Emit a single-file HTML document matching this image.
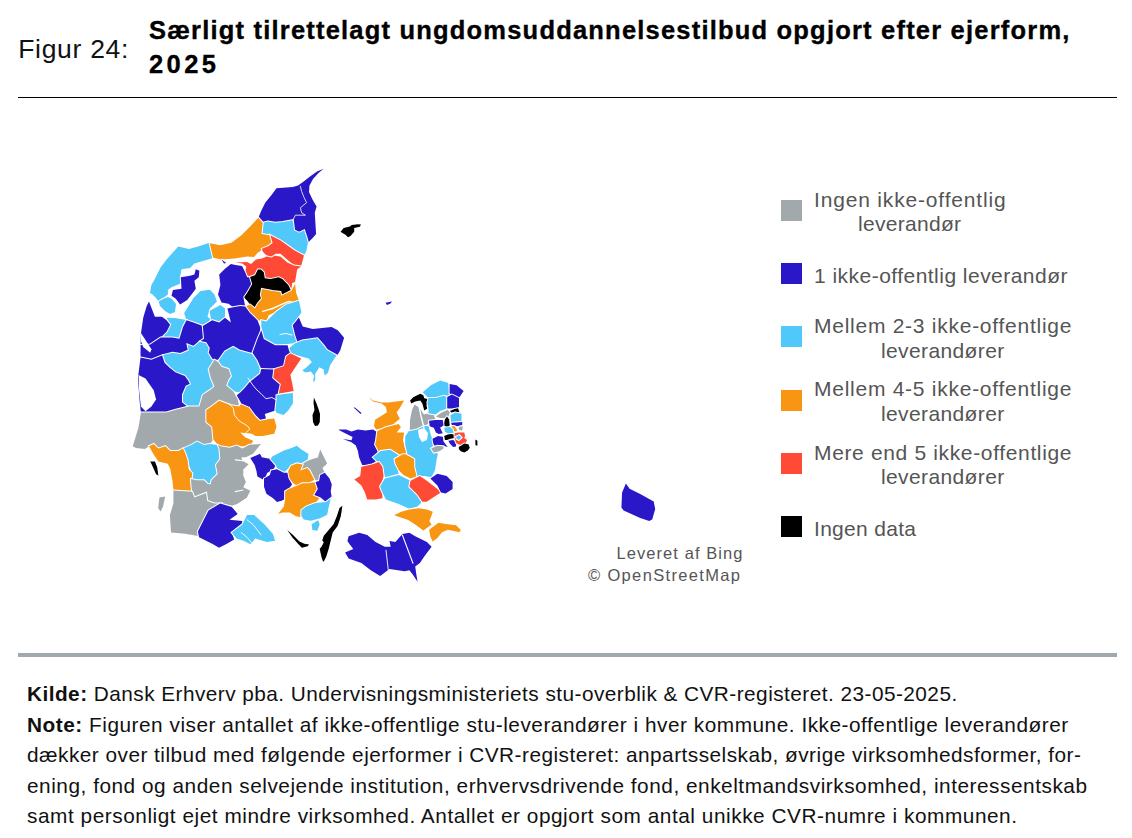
<!DOCTYPE html>
<html><head><meta charset="utf-8">
<style>
html,body{margin:0;padding:0;background:#fff;}
body{width:1132px;height:838px;position:relative;overflow:hidden;font-family:"Liberation Sans",sans-serif;}
.t{position:absolute;white-space:nowrap;line-height:1;}
.t b{font-weight:bold;}
</style></head><body>
<div style="position:absolute;left:18px;top:97px;width:1099px;height:1px;background:#000"></div>
<div style="position:absolute;left:18px;top:653px;width:1099px;height:4px;background:#A1A9AC"></div>
<div style="position:absolute;left:781px;top:200px;width:21px;height:21px;background:#A1A9AC"></div><div style="position:absolute;left:781px;top:263px;width:21px;height:21px;background:#2A18C8"></div><div style="position:absolute;left:781px;top:326px;width:21px;height:21px;background:#50C8FA"></div><div style="position:absolute;left:781px;top:390px;width:21px;height:21px;background:#F89512"></div><div style="position:absolute;left:781px;top:453px;width:21px;height:21px;background:#FF4B36"></div><div style="position:absolute;left:781px;top:516px;width:21px;height:21px;background:#000000"></div>
<svg style="position:absolute;left:0;top:0" width="1132" height="838" viewBox="0 0 1132 838"><path d="M323.6,168.8 L317.0,171.5 L310.0,176.5 L303.0,182.0 L298.0,185.5 L292.8,187.0 L276.5,188.2 L271.5,195.1 L265.2,202.7 L261.5,210.2 L258.3,217.7 L262.7,222.7 L267.8,221.5 L275.3,222.7 L282.8,222.1 L292.8,220.2 L294.1,230.3 L299.1,232.8 L304.1,230.3 L306.6,237.8 L307.9,242.8 L312.9,237.8 L316.1,234.0 L315.4,222.7 L314.8,212.7 L316.6,206.4 L312.5,199.5 L309.0,192.0 L309.5,185.5 L313.0,179.0 L318.5,173.0Z" fill="#2A18C8" stroke="#fff" stroke-width="2.0" paint-order="stroke"/>
<path d="M261.5,234.0 L262.7,222.7 L267.8,221.5 L275.3,222.7 L282.8,222.1 L292.8,220.2 L294.1,230.3 L299.1,232.8 L304.1,230.3 L306.6,237.8 L307.9,242.8 L306.6,250.3 L304.1,255.4 L295.4,250.3 L287.8,245.3 L280.3,240.3 L270.3,235.3Z" fill="#50C8FA" stroke="#fff" stroke-width="2.0" paint-order="stroke"/>
<path d="M258.3,217.7 L262.7,222.7 L261.5,234.0 L270.3,235.3 L271.5,242.8 L265.2,247.8 L257.7,252.8 L254.0,257.0 L247.2,256.6 L234.5,258.6 L221.7,259.6 L212.0,257.6 L208.7,243.0 L220.1,245.3 L231.4,242.8 L241.4,235.3 L250.2,226.5Z" fill="#F89512" stroke="#fff" stroke-width="2.0" paint-order="stroke"/>
<path d="M261.9,248.8 L268.7,245.9 L272.6,242.9 L270.3,235.3 L280.3,240.3 L288.3,245.9 L295.1,250.8 L304.1,255.4 L303.9,255.7 L301.0,266.4 L294.1,265.4 L288.3,260.5 L280.4,253.7 L275.6,253.7 L270.7,257.6 L265.8,254.7 L262.8,251.7Z" fill="#FF4B36" stroke="#fff" stroke-width="2.0" paint-order="stroke"/>
<path d="M235.4,262.5 L242.3,263.5 L246.2,266.4 L245.2,272.3 L247.2,277.2 L255.0,275.2 L257.9,269.4 L263.8,272.3 L264.8,278.2 L270.7,279.1 L278.5,277.2 L282.4,279.1 L288.3,285.0 L291.2,290.9 L292.2,283.0 L295.1,282.1 L297.1,269.4 L301.0,266.4 L294.1,265.4 L287.3,262.5 L280.4,256.6 L274.6,255.7 L271.6,257.6 L266.8,256.6 L261.9,258.6 L256.0,259.6 L251.0,264.0 L247.0,262.0Z" fill="#FF4B36" stroke="#fff" stroke-width="2.0" paint-order="stroke"/>
<path d="M257.9,269.4 L260.9,269.4 L263.8,272.3 L264.8,278.2 L270.7,279.1 L278.5,277.2 L282.4,279.1 L288.3,285.0 L291.2,290.9 L286.3,293.8 L281.4,295.8 L280.4,291.9 L272.6,290.9 L262.8,288.9 L260.9,294.8 L261.9,298.7 L257.9,303.6 L255.0,308.5 L250.1,304.6 L247.2,300.7 L243.3,296.8 L247.2,290.9 L251.1,284.0 L249.1,277.2 L255.0,275.2Z" fill="#000000" stroke="#fff" stroke-width="2.0" paint-order="stroke"/>
<path d="M261.9,288.9 L272.6,290.9 L280.4,291.9 L281.4,295.8 L291.2,290.9 L295.1,284.0 L296.1,292.8 L299.0,300.7 L292.2,302.6 L286.3,304.6 L276.5,311.4 L268.7,315.3 L266.3,321.4 L257.5,320.2 L250.0,313.0 L247.2,310.5 L245.2,306.5 L250.1,304.6 L255.0,308.5 L257.9,303.6 L261.9,298.7 L260.9,294.8Z" fill="#F89512" stroke="#fff" stroke-width="2.0" paint-order="stroke"/>
<path d="M262.8,311.4 L272.6,308.5 L283.4,303.6 L288.3,301.6 L293.2,302.6" fill="none" stroke="#fff" stroke-width="1.5" stroke-linejoin="round" stroke-linecap="round"/>
<path d="M340.6,231.7 L343.7,228.0 L349.9,226.4 L351.7,224.9 L357.9,224.3 L361.0,224.6 L359.8,226.8 L354.2,228.0 L354.2,231.7 L350.5,236.1 L348.0,237.3 L345.5,234.8 L342.4,233.0Z" fill="#000000" stroke="#fff" stroke-width="2.0" paint-order="stroke"/>
<path d="M385.5,302.8 L392.0,301.5 L390.5,303.6 L387.0,305.0Z" fill="#2A18C8" stroke="#fff" stroke-width="2.0" paint-order="stroke"/>
<path d="M150.0,293.0 L151.4,285.1 L154.3,280.1 L160.7,267.2 L166.6,259.4 L178.3,246.5 L188.8,248.9 L198.2,246.5 L208.7,243.0 L212.2,258.2 L203.7,260.7 L194.4,263.6 L190.1,267.9 L181.5,269.3 L180.1,277.2 L180.1,283.7 L171.5,287.2 L167.9,290.1 L167.9,294.4 L158.6,301.6 L156.0,298.0 L152.0,294.0Z" fill="#50C8FA" stroke="#fff" stroke-width="2.0" paint-order="stroke"/>
<path d="M172.9,290.1 L181.5,288.7 L180.8,277.2 L190.1,275.8 L194.4,274.4 L195.8,269.3 L199.4,270.8 L198.7,277.2 L194.4,280.8 L195.8,288.7 L191.5,294.4 L187.2,300.1 L180.1,304.4 L175.8,298.7 L171.5,295.8Z" fill="#2A18C8" stroke="#fff" stroke-width="2.0" paint-order="stroke"/>
<path d="M221.5,259.4 L226.2,262.9 L224.0,263.5Z" fill="#2A18C8" stroke="#fff" stroke-width="2.0" paint-order="stroke"/>
<path d="M219.2,274.6 L225.0,268.7 L230.9,264.1 L235.4,265.0 L242.0,266.0 L245.2,272.3 L247.2,277.2 L249.1,277.2 L251.1,284.0 L247.2,290.9 L243.3,296.8 L245.2,306.5 L241.3,306.5 L237.4,310.5 L233.2,307.3 L228.5,303.8 L221.5,302.6 L218.0,294.5 L220.4,285.1Z" fill="#2A18C8" stroke="#fff" stroke-width="2.0" paint-order="stroke"/>
<path d="M184.1,313.2 L193.5,298.0 L200.5,291.0 L209.8,289.8 L214.5,294.5 L216.9,301.5 L209.8,308.5 L207.5,316.7 L212.2,320.2 L202.8,324.9 L193.5,322.5 L186.5,320.2Z" fill="#50C8FA" stroke="#fff" stroke-width="2.0" paint-order="stroke"/>
<path d="M209.8,310.8 L220.4,305.0 L225.0,308.5 L225.0,317.8 L219.2,322.5 L211.0,320.2Z" fill="#50C8FA" stroke="#fff" stroke-width="2.0" paint-order="stroke"/>
<path d="M158.6,301.6 L163.0,299.0 L168.0,297.0 L172.0,299.0 L176.0,304.0 L175.0,312.0 L170.0,314.0 L165.0,311.0 L160.0,306.0Z" fill="#50C8FA" stroke="#fff" stroke-width="2.0" paint-order="stroke"/>
<path d="M166.6,317.8 L174.8,318.0 L186.5,320.0 L183.0,327.0 L179.4,338.7 L172.4,337.5 L160.7,337.5 L166.6,331.7 L170.1,324.7Z" fill="#50C8FA" stroke="#fff" stroke-width="2.0" paint-order="stroke"/>
<path d="M140.9,334.0 L143.2,317.8 L146.7,306.1 L149.0,301.5 L154.9,316.7 L161.9,316.7 L166.6,320.2 L170.1,324.7 L166.6,331.7 L160.7,337.5 L150.2,344.6 L140.6,345.0Z" fill="#2A18C8" stroke="#fff" stroke-width="2.0" paint-order="stroke"/>
<path d="M140.6,345.0 L150.2,344.6 L160.7,337.5 L172.4,337.5 L179.4,338.7 L183.0,327.0 L186.5,320.2 L193.5,322.5 L202.8,326.0 L204.0,338.7 L200.5,341.0 L193.5,346.9 L188.8,350.4 L180.6,353.9 L172.4,352.7 L163.1,355.1 L151.4,359.8 L140.5,357.4Z" fill="#2A18C8" stroke="#fff" stroke-width="2.0" paint-order="stroke"/>
<path d="M140.5,357.4 L151.4,359.8 L163.1,355.1 L165.4,362.1 L170.1,366.8 L175.9,371.4 L185.3,375.0 L188.8,379.6 L191.1,384.3 L186.5,386.6 L183.0,394.8 L183.0,401.8 L188.8,406.5 L174.8,410.0 L166.6,412.4 L140.9,412.4 L139.7,401.8 L137.9,378.5Z" fill="#2A18C8" stroke="#fff" stroke-width="2.0" paint-order="stroke"/>
<path d="M138.5,375.0 L145.5,378.5 L153.7,390.2 L156.1,399.5 L151.4,406.5 L145.5,411.2 L140.9,406.5 L139.1,390.2Z" fill="#FFFFFF"/>
<path d="M140.9,332.9 L145.5,339.9 L151.4,349.2 L150.2,352.7 L143.2,346.9 L140.9,341.0Z" fill="#FFFFFF"/>
<path d="M163.1,355.1 L172.4,352.7 L180.6,353.9 L188.8,350.4 L187.6,344.6 L193.5,346.9 L200.5,341.0 L206.3,342.2 L209.8,348.1 L208.7,352.7 L212.2,358.6 L214.5,359.8 L208.7,369.1 L211.0,378.5 L214.5,386.6 L209.8,390.2 L202.8,394.8 L199.3,406.5 L188.8,406.5 L183.0,401.8 L183.0,394.8 L186.5,386.6 L191.1,384.3 L188.8,379.6 L185.3,375.0 L175.9,371.4 L170.1,366.8 L165.4,362.1Z" fill="#50C8FA" stroke="#fff" stroke-width="2.0" paint-order="stroke"/>
<path d="M202.8,326.0 L212.2,320.2 L219.2,322.5 L225.0,317.8 L230.9,322.5 L227.4,308.5 L233.2,307.3 L240.2,306.1 L245.2,306.5 L250.0,313.0 L257.5,320.2 L261.3,330.2 L257.5,339.0 L252.5,352.8 L251.9,353.9 L239.1,350.4 L233.2,346.9 L225.0,351.6 L219.2,359.8 L214.5,359.8 L212.2,358.6 L208.7,352.7 L209.8,348.1 L206.3,342.2 L200.5,341.0 L204.0,338.7Z" fill="#2A18C8" stroke="#fff" stroke-width="2.0" paint-order="stroke"/>
<path d="M219.2,359.8 L225.0,351.6 L233.2,346.9 L239.1,350.4 L251.9,353.9 L259.0,357.4 L260.0,373.8 L249.6,382.0 L244.9,387.8 L240.2,392.5 L233.2,391.3 L226.2,385.5 L228.5,379.6 L230.9,376.1 L228.5,369.1 L221.5,366.8 L218.0,362.1Z" fill="#50C8FA" stroke="#fff" stroke-width="2.0" paint-order="stroke"/>
<path d="M214.5,359.8 L218.0,362.1 L221.5,366.8 L228.5,369.1 L230.9,376.1 L228.5,379.6 L226.2,385.5 L233.2,391.3 L237.9,399.5 L239.1,406.5 L230.9,405.3 L219.2,400.7 L207.5,408.9 L206.4,411.6 L206.4,422.1 L212.2,426.8 L213.4,439.6 L209.8,443.9 L204.0,445.1 L197.0,441.6 L191.1,445.1 L183.0,448.6 L178.3,450.9 L170.1,450.9 L165.4,446.2 L158.4,448.6 L153.7,443.9 L149.0,446.2 L145.0,449.0 L136.0,448.0 L132.7,446.2 L138.5,427.5 L140.9,412.4 L166.6,412.4 L174.8,410.0 L188.8,406.5 L199.3,406.5 L202.8,394.8 L209.8,390.2 L214.5,386.6 L211.0,378.5 L208.7,369.1Z" fill="#A1A9AC" stroke="#fff" stroke-width="2.0" paint-order="stroke"/>
<path d="M206.3,410.0 L209.8,407.7 L219.2,400.7 L230.9,405.3 L239.1,406.5 L241.4,403.4 L249.6,406.9 L255.5,415.1 L262.5,419.8 L274.2,418.6 L276.5,426.8 L274.2,433.8 L262.5,436.1 L255.5,436.1 L252.0,433.8 L240.3,432.6 L245.0,437.3 L253.1,440.8 L250.8,445.5 L242.6,446.6 L236.8,445.5 L229.8,447.8 L221.6,446.6 L218.0,445.1 L213.4,439.6 L212.2,426.8 L206.4,422.1Z" fill="#F89512" stroke="#fff" stroke-width="2.0" paint-order="stroke"/>
<path d="M183.0,448.6 L191.1,445.1 L197.0,441.6 L204.0,445.1 L209.8,443.9 L218.0,445.1 L219.4,448.4 L220.3,459.0 L215.9,465.1 L217.7,474.0 L211.5,480.2 L210.6,484.6 L207.5,483.7 L204.0,480.2 L197.0,480.2 L191.1,479.0 L191.1,470.8 L187.6,461.4 L185.3,453.3Z" fill="#50C8FA" stroke="#fff" stroke-width="2.0" paint-order="stroke"/>
<path d="M149.0,446.2 L153.7,443.9 L158.4,448.6 L165.4,446.2 L170.1,450.9 L178.3,450.9 L183.0,448.6 L185.3,453.3 L187.6,460.3 L188.8,469.6 L192.3,473.1 L191.1,482.5 L192.3,491.8 L173.6,490.7 L172.4,480.2 L170.1,468.5 L167.8,463.8 L158.4,461.4 L153.7,454.4Z" fill="#F89512" stroke="#fff" stroke-width="2.0" paint-order="stroke"/>
<path d="M218.0,445.1 L221.6,446.6 L229.8,447.8 L236.8,445.5 L242.4,448.4 L249.4,444.8 L260.9,444.0 L253.0,453.7 L245.9,457.2 L241.5,457.2 L242.4,460.7 L248.6,464.3 L243.3,469.6 L243.3,475.7 L245.9,481.9 L243.3,487.2 L250.3,490.7 L246.8,497.8 L237.1,504.0 L231.8,505.8 L220.2,503.4 L214.3,503.4 L207.3,501.0 L206.1,492.9 L194.4,497.5 L192.1,491.7 L191.1,482.5 L191.1,479.0 L197.0,480.2 L204.0,480.2 L207.5,483.7 L210.6,484.6 L211.5,480.2 L217.7,474.0 L215.9,465.1 L220.3,459.0 L219.4,448.4Z" fill="#A1A9AC" stroke="#fff" stroke-width="2.0" paint-order="stroke"/>
<path d="M235.3,459.8 L242.4,460.7" fill="none" stroke="#fff" stroke-width="1.2" stroke-linejoin="round" stroke-linecap="round"/>
<path d="M235.3,491.6 L243.0,490.0" fill="none" stroke="#fff" stroke-width="1.2" stroke-linejoin="round" stroke-linecap="round"/>
<path d="M173.4,490.5 L192.1,491.7 L194.4,497.5 L206.1,492.9 L207.3,501.0 L214.3,503.4 L220.2,503.4 L208.5,510.4 L203.8,519.8 L197.9,531.4 L197.9,536.1 L185.1,533.8 L171.0,532.6 L169.9,515.1 L173.4,503.4Z" fill="#A1A9AC" stroke="#fff" stroke-width="2.0" paint-order="stroke"/>
<path d="M159.4,497.5 L165.2,496.4 L162.9,506.9 L160.5,511.6 L158.2,508.1Z" fill="#A1A9AC" stroke="#fff" stroke-width="2.0" paint-order="stroke"/>
<path d="M150.2,461.4 L154.9,461.4 L157.2,467.3 L158.4,475.5 L156.1,474.3 L151.4,463.8Z" fill="#000000" stroke="#fff" stroke-width="2.0" paint-order="stroke"/>
<path d="M220.2,503.4 L231.8,506.9 L237.7,513.9 L229.5,519.8 L242.4,520.9 L241.2,527.9 L231.8,532.6 L234.2,539.6 L226.0,544.3 L219.0,547.8 L213.1,544.3 L199.1,537.3 L197.9,531.4 L203.8,519.8 L208.5,510.4Z" fill="#2A18C8" stroke="#fff" stroke-width="2.0" paint-order="stroke"/>
<path d="M231.8,532.6 L242.4,524.4 L247.0,515.1 L254.1,515.1 L264.6,524.4 L272.8,533.8 L275.1,540.8 L266.9,542.0 L255.2,538.5 L250.5,544.3 L243.5,540.8 L236.5,538.5Z" fill="#50C8FA" stroke="#fff" stroke-width="2.0" paint-order="stroke"/>
<path d="M261.3,320.2 L266.3,321.4 L276.5,311.4 L286.3,304.6 L299.0,300.7 L301.4,312.6 L292.7,325.2 L295.2,335.2 L297.7,342.7 L287.6,344.0 L275.1,345.2 L263.8,339.0 L261.3,330.2Z" fill="#50C8FA" stroke="#fff" stroke-width="2.0" paint-order="stroke"/>
<path d="M298.9,317.6 L302.7,326.4 L312.7,328.9 L331.6,327.0 L337.8,330.2 L344.1,337.7 L340.3,350.3 L336.6,356.5 L325.3,347.8 L315.2,337.7 L306.5,340.2 L297.7,342.7 L295.2,335.2 L292.7,325.2Z" fill="#2A18C8" stroke="#fff" stroke-width="2.0" paint-order="stroke"/>
<path d="M289.4,347.9 L287.2,352.2 L301.2,356.5 L308.7,358.6 L311.9,361.9 L306.6,367.2 L302.3,370.4 L305.5,372.6 L310.9,371.5 L314.1,375.8 L313.0,382.3 L315.2,380.1 L315.2,373.7 L319.4,367.2 L323.7,369.4 L324.8,375.8 L328.0,372.6 L330.2,365.1 L334.5,358.6 L336.6,355.4 L327.0,350.0 L323.7,345.7 L317.3,338.2 L302.3,340.4 L294.7,343.6Z" fill="#50C8FA" stroke="#fff" stroke-width="2.0" paint-order="stroke"/>
<path d="M252.5,352.8 L257.5,339.0 L261.3,330.2 L263.8,339.0 L275.1,345.2 L287.6,345.2 L288.9,350.3 L290.4,353.3 L286.1,356.5 L284.0,366.1 L273.3,369.4 L261.3,369.1 L257.5,360.3Z" fill="#2A18C8" stroke="#fff" stroke-width="2.0" paint-order="stroke"/>
<path d="M290.4,353.3 L301.2,358.6 L290.4,374.7 L293.7,390.9 L277.6,394.1 L279.7,384.4 L272.2,378.0 L273.3,369.4 L284.0,366.1 L286.1,356.5Z" fill="#FF4B36" stroke="#fff" stroke-width="2.0" paint-order="stroke"/>
<path d="M236.8,395.2 L240.2,392.5 L244.9,387.8 L249.6,382.0 L260.0,373.8 L261.3,369.1 L273.3,369.4 L272.2,378.0 L279.7,384.4 L277.6,394.1 L276.5,399.9 L275.4,410.4 L264.8,413.9 L266.0,418.6 L260.2,419.8 L255.5,415.1 L249.6,406.9 L241.4,403.4Z" fill="#2A18C8" stroke="#fff" stroke-width="2.0" paint-order="stroke"/>
<path d="M276.5,395.2 L283.5,394.0 L292.9,392.9 L292.9,403.4 L288.2,410.4 L283.5,415.1 L276.5,412.7 L275.4,410.4 L276.5,399.9Z" fill="#50C8FA" stroke="#fff" stroke-width="2.0" paint-order="stroke"/>
<path d="M313.9,397.5 L316.3,403.0 L318.5,409.0 L320.0,414.0 L319.8,422.0 L318.0,425.5 L315.0,426.0 L313.0,422.0 L312.5,415.0 L314.5,410.0 L313.5,403.0Z" fill="#000000" stroke="#fff" stroke-width="2.0" paint-order="stroke"/>
<path d="M250.3,458.1 L260.0,453.7 L261.8,457.2 L270.6,459.0 L275.9,465.1 L273.3,469.6 L267.1,473.1 L264.5,480.2 L257.4,476.6 L256.5,471.3 L254.7,465.1Z" fill="#2A18C8" stroke="#fff" stroke-width="2.0" paint-order="stroke"/>
<path d="M272.2,456.4 L283.9,450.5 L290.9,448.2 L296.8,445.8 L301.4,449.4 L308.5,454.0 L307.3,461.0 L296.8,466.9 L290.9,465.7 L287.4,469.2 L283.9,472.7 L276.9,468.1 L275.9,465.1 L270.6,459.0Z" fill="#50C8FA" stroke="#fff" stroke-width="2.0" paint-order="stroke"/>
<path d="M307.3,461.0 L313.1,458.7 L317.8,457.5 L320.2,449.4 L324.8,458.7 L327.2,463.4 L322.5,468.1 L324.8,472.7 L320.2,475.1 L319.0,480.9 L314.3,479.8 L309.6,470.4 L302.6,469.2 L296.8,466.9Z" fill="#A1A9AC" stroke="#fff" stroke-width="2.0" paint-order="stroke"/>
<path d="M287.4,472.7 L290.9,465.7 L296.8,463.4 L302.6,464.6 L300.3,470.4 L307.3,468.1 L309.6,470.4 L314.3,479.8 L308.5,483.3 L301.4,483.3 L296.8,485.6 L293.3,483.3 L288.6,478.6Z" fill="#F89512" stroke="#fff" stroke-width="2.0" paint-order="stroke"/>
<path d="M264.0,478.6 L269.9,475.1 L271.0,470.4 L276.9,469.2 L283.9,472.7 L287.4,472.7 L288.6,478.6 L292.1,484.4 L288.6,489.1 L285.1,491.4 L286.2,498.5 L281.6,500.8 L276.9,502.0 L273.4,498.5 L266.4,493.8 L264.0,486.8Z" fill="#2A18C8" stroke="#fff" stroke-width="2.0" paint-order="stroke"/>
<path d="M285.1,491.4 L288.6,489.1 L294.4,486.8 L302.6,483.3 L308.5,483.3 L315.5,482.1 L317.8,489.1 L314.3,495.0 L320.2,497.3 L315.5,503.1 L306.1,506.6 L301.4,510.2 L300.3,517.2 L295.6,516.0 L289.8,512.5 L282.7,512.5 L278.1,513.7 L283.9,506.6 L285.1,499.6Z" fill="#F89512" stroke="#fff" stroke-width="2.0" paint-order="stroke"/>
<path d="M315.5,482.1 L319.0,480.9 L320.2,475.1 L324.8,472.7 L329.5,478.6 L331.8,484.4 L330.7,491.4 L331.8,497.3 L326.0,502.0 L320.2,497.3 L314.3,495.0 L317.8,489.1Z" fill="#2A18C8" stroke="#fff" stroke-width="2.0" paint-order="stroke"/>
<path d="M301.4,510.2 L306.1,506.6 L315.5,503.1 L326.0,502.0 L330.7,498.5 L328.3,509.0 L327.2,514.8 L320.2,518.3 L310.8,520.7 L303.8,519.5 L301.4,516.0Z" fill="#50C8FA" stroke="#fff" stroke-width="2.0" paint-order="stroke"/>
<path d="M311.6,524.3 L318.1,520.3 L319.7,524.3 L317.3,530.8 L312.4,530.0Z" fill="#50C8FA" stroke="#fff" stroke-width="2.0" paint-order="stroke"/>
<path d="M342.4,505.7 L340.8,516.2 L337.6,526.0 L332.7,532.4 L331.1,538.9 L328.7,548.7 L326.2,556.8 L323.8,561.6 L323.0,561.6 L321.4,556.8 L319.7,548.7 L321.4,547.0 L323.8,542.2 L322.2,540.6 L323.8,535.7 L328.7,530.0 L333.5,524.3 L336.8,516.2 L339.5,508.0Z" fill="#000000" stroke="#fff" stroke-width="2.0" paint-order="stroke"/>
<path d="M287.3,530.0 L293.0,534.9 L299.5,541.4 L304.3,543.8 L309.2,544.6 L307.6,546.2 L301.9,547.8 L298.7,544.6 L292.2,537.3Z" fill="#000000" stroke="#fff" stroke-width="2.0" paint-order="stroke"/>
<path d="M368.7,397.2 L373.0,400.4 L381.6,402.6 L388.0,402.6 L404.1,400.4 L399.8,407.9 L396.6,412.2 L399.8,418.7 L392.3,425.1 L385.9,427.3 L376.2,429.4 L374.0,426.2 L375.1,419.7 L380.5,416.5 L386.9,412.2 L385.9,406.9 L381.6,403.5 L373.0,401.5Z" fill="#F89512" stroke="#fff" stroke-width="2.0" paint-order="stroke"/>
<path d="M376.2,431.6 L385.9,427.3 L398.7,424.0 L400.9,427.3 L396.6,432.6 L404.1,432.6 L403.0,440.2 L405.2,448.7 L409.5,455.2 L398.7,455.2 L394.4,453.0 L385.9,450.9 L378.3,453.0 L377.3,450.9 L374.0,444.4 L375.1,438.0Z" fill="#F89512" stroke="#fff" stroke-width="2.0" paint-order="stroke"/>
<path d="M338.6,429.4 L346.1,429.4 L351.5,431.6 L357.9,429.4 L365.4,430.5 L373.0,429.4 L376.2,431.6 L375.1,440.2 L374.0,444.4 L377.3,450.9 L378.3,454.1 L373.0,457.3 L377.3,461.6 L373.0,464.9 L362.2,464.9 L359.0,457.3 L357.9,450.9 L355.8,445.5 L351.5,442.3 L342.9,439.1 L351.5,440.2 L352.6,436.9 L346.1,433.7 L339.7,430.5Z" fill="#2A18C8" stroke="#fff" stroke-width="2.0" paint-order="stroke"/>
<path d="M373.0,457.3 L380.5,450.9 L390.2,449.8 L398.7,455.2 L395.5,461.6 L397.6,469.0 L398.8,473.7 L389.4,477.2 L384.8,477.2 L382.4,466.7 L379.4,462.4 L373.0,464.9 L377.3,461.6Z" fill="#50C8FA" stroke="#fff" stroke-width="2.0" paint-order="stroke"/>
<path d="M361.4,466.7 L371.9,464.4 L378.9,462.0 L382.4,466.7 L383.6,476.0 L381.2,485.4 L382.4,492.4 L382.4,498.3 L375.4,499.4 L367.2,499.4 L364.9,492.4 L361.4,485.4 L354.4,479.6 L360.2,476.0Z" fill="#FF4B36" stroke="#fff" stroke-width="2.0" paint-order="stroke"/>
<path d="M394.6,458.9 L402.8,454.2 L407.5,454.2 L409.8,455.3 L415.2,458.5 L415.2,466.7 L417.5,476.0 L410.5,478.4 L403.5,474.9 L398.8,470.2 L395.3,463.2Z" fill="#F89512" stroke="#fff" stroke-width="2.0" paint-order="stroke"/>
<path d="M380.1,486.6 L384.8,478.4 L398.8,474.9 L410.5,480.7 L409.3,486.6 L417.5,494.8 L422.2,501.8 L417.5,506.4 L409.3,508.8 L398.8,504.1 L385.9,499.4 L382.4,492.4Z" fill="#50C8FA" stroke="#fff" stroke-width="2.0" paint-order="stroke"/>
<path d="M405.2,436.6 L409.8,429.6 L416.8,428.5 L423.9,425.0 L428.5,426.1 L430.9,435.5 L434.4,442.5 L432.0,447.2 L437.9,454.2 L436.7,458.9 L435.0,470.2 L431.5,477.2 L424.5,476.0 L417.5,476.0 L415.2,466.7 L415.2,458.5 L409.8,455.3 L407.5,454.2 L405.2,444.8Z" fill="#50C8FA" stroke="#fff" stroke-width="2.0" paint-order="stroke"/>
<path d="M410.5,480.7 L419.8,476.0 L426.8,480.7 L437.4,488.9 L440.9,492.4 L433.9,497.1 L426.8,501.8 L422.2,501.8 L417.5,494.8 L409.3,486.6Z" fill="#FF4B36" stroke="#fff" stroke-width="2.0" paint-order="stroke"/>
<path d="M430.4,478.4 L437.4,473.7 L446.7,476.0 L452.6,481.9 L452.6,488.9 L445.6,493.6 L440.9,492.4 L437.4,485.4Z" fill="#2A18C8" stroke="#fff" stroke-width="2.0" paint-order="stroke"/>
<path d="M409.8,430.0 L410.0,420.0 L412.0,410.0 L414.5,404.5 L419.2,407.4 L423.9,414.4 L428.5,413.3 L434.4,415.6 L435.5,419.1 L430.9,421.4 L426.2,425.0 L423.9,425.0 L416.8,428.5Z" fill="#A1A9AC" stroke="#fff" stroke-width="2.0" paint-order="stroke"/>
<path d="M410.1,400.4 L413.2,397.3 L420.3,393.8 L423.3,395.3 L424.3,398.3 L428.4,399.3 L429.4,401.4 L426.4,405.4 L427.4,408.5 L424.3,410.5 L422.3,403.4 L420.3,400.4 L415.2,401.4 L411.2,403.4Z" fill="#000000" stroke="#fff" stroke-width="2.0" paint-order="stroke"/>
<path d="M422.7,392.2 L430.9,385.2 L440.2,380.5 L448.4,382.9 L449.6,395.7 L443.7,395.7 L435.5,398.1 L428.5,398.1Z" fill="#50C8FA" stroke="#fff" stroke-width="2.0" paint-order="stroke"/>
<path d="M427.4,402.7 L428.5,398.1 L435.5,398.1 L443.7,395.7 L447.2,396.9 L447.2,408.6 L440.2,410.9 L435.5,414.4 L428.5,413.3 L428.5,408.6Z" fill="#50C8FA" stroke="#fff" stroke-width="2.0" paint-order="stroke"/>
<path d="M449.6,384.0 L456.6,385.2 L463.6,391.0 L459.0,398.1 L451.9,394.6 L449.6,393.4Z" fill="#2A18C8" stroke="#fff" stroke-width="2.0" paint-order="stroke"/>
<path d="M447.2,396.9 L451.9,394.6 L459.0,398.1 L459.0,407.4 L451.9,408.6 L447.2,408.6Z" fill="#2A18C8" stroke="#fff" stroke-width="2.0" paint-order="stroke"/>
<path d="M449.8,411.1 L454.6,409.0 L458.1,408.3 L459.4,412.5 L454.6,411.8 L451.1,412.5Z" fill="#000000" stroke="#fff" stroke-width="2.0" paint-order="stroke"/>
<path d="M435.9,416.6 L440.8,413.1 L447.7,409.7 L449.8,412.5 L448.4,416.6 L444.9,418.0 L440.1,418.0Z" fill="#A1A9AC" stroke="#fff" stroke-width="2.0" paint-order="stroke"/>
<path d="M443.5,425.6 L444.9,419.4 L447.0,416.6 L449.1,419.4 L449.8,426.3 L447.0,427.0Z" fill="#000000" stroke="#fff" stroke-width="2.0" paint-order="stroke"/>
<path d="M450.4,415.2 L455.3,412.5 L461.5,413.8 L461.5,421.5 L451.1,422.1Z" fill="#50C8FA" stroke="#fff" stroke-width="2.0" paint-order="stroke"/>
<path d="M451.1,422.8 L462.2,422.1 L462.2,424.9 L457.4,426.3 L451.8,424.9Z" fill="#2A18C8" stroke="#fff" stroke-width="2.0" paint-order="stroke"/>
<path d="M458.8,427.0 L462.9,426.3 L462.2,430.4 L458.8,429.8Z" fill="#A1A9AC" stroke="#fff" stroke-width="2.0" paint-order="stroke"/>
<path d="M451.1,426.3 L454.6,426.3 L457.4,430.4 L454.6,431.8 L453.2,429.1Z" fill="#F89512" stroke="#fff" stroke-width="2.0" paint-order="stroke"/>
<path d="M429.0,420.8 L435.2,420.1 L442.8,420.1 L443.5,425.6 L440.1,427.7 L442.8,433.2 L438.7,433.9 L435.9,432.5 L433.8,427.7 L429.7,426.3Z" fill="#2A18C8" stroke="#fff" stroke-width="2.0" paint-order="stroke"/>
<path d="M444.2,427.7 L449.8,427.0 L452.5,429.1 L453.9,433.2 L449.1,433.9 L444.9,431.8Z" fill="#50C8FA" stroke="#fff" stroke-width="2.0" paint-order="stroke"/>
<path d="M444.2,436.0 L447.7,434.6 L451.1,433.9 L453.9,434.6 L454.6,438.1 L450.4,438.8 L447.7,440.1 L444.9,440.1Z" fill="#000000" stroke="#fff" stroke-width="2.0" paint-order="stroke"/>
<path d="M432.5,438.8 L438.0,436.0 L442.8,436.7 L443.5,441.5 L447.7,447.1 L440.8,445.0 L434.5,445.7 L433.1,442.9Z" fill="#2A18C8" stroke="#fff" stroke-width="2.0" paint-order="stroke"/>
<path d="M448.4,440.8 L453.2,440.1 L456.0,442.2 L456.0,446.4 L453.2,447.1 L449.8,443.6Z" fill="#2A18C8" stroke="#fff" stroke-width="2.0" paint-order="stroke"/>
<path d="M454.6,433.2 L458.8,432.5 L464.3,432.5 L465.0,436.0 L464.3,438.1 L467.1,440.1 L465.0,444.3 L460.1,445.0 L456.0,442.9 L454.6,437.4Z" fill="#FF4B36" stroke="#fff" stroke-width="2.0" paint-order="stroke"/>
<path d="M456.0,436.7 L459.4,435.3 L461.5,437.4 L458.8,440.1 L456.7,438.8Z" fill="#50C8FA" stroke="#fff" stroke-width="2.0" paint-order="stroke"/>
<path d="M458.8,447.1 L464.3,443.6 L468.4,444.3 L469.8,447.8 L467.8,450.5 L464.3,452.6 L460.8,451.2 L458.8,449.1Z" fill="#000000" stroke="#fff" stroke-width="2.0" paint-order="stroke"/>
<path d="M475.4,439.4 L477.4,440.8 L477.4,445.7 L475.4,445.0Z" fill="#000000" stroke="#fff" stroke-width="2.0" paint-order="stroke"/>
<path d="M431.1,448.4 L437.3,445.7 L443.5,446.4 L443.5,448.4 L439.4,451.2 L433.8,452.6Z" fill="#A1A9AC" stroke="#fff" stroke-width="2.0" paint-order="stroke"/>
<path d="M401.2,511.7 L409.4,509.4 L418.7,508.2 L426.9,509.4 L432.8,511.7 L431.6,515.2 L429.3,521.0 L431.6,524.6 L423.4,530.4 L415.2,524.6 L408.2,519.9 L394.2,515.2Z" fill="#F89512" stroke="#fff" stroke-width="2.0" paint-order="stroke"/>
<path d="M429.2,529.8 L438.5,522.8 L445.6,524.0 L456.1,525.2 L460.7,529.8 L459.6,532.2 L447.9,529.8 L442.0,532.2 L437.4,538.0 L432.7,541.5 L430.4,536.8Z" fill="#F89512" stroke="#fff" stroke-width="2.0" paint-order="stroke"/>
<path d="M348.6,536.2 L359.1,532.7 L367.3,535.1 L375.5,542.1 L384.8,546.8 L390.7,546.8 L389.5,540.9 L395.4,542.1 L402.4,533.9 L409.4,532.7 L415.2,536.2 L426.9,542.1 L431.6,546.8 L424.6,556.1 L419.9,563.1 L415.2,566.6 L416.4,574.8 L417.6,581.8 L412.9,574.8 L409.4,570.2 L404.7,571.3 L389.5,569.0 L384.8,572.5 L380.2,576.0 L370.8,570.2 L361.4,563.1 L348.6,558.5 L345.1,552.6 L353.3,549.1 L349.8,544.4 L347.4,540.9Z" fill="#2A18C8" stroke="#fff" stroke-width="2.0" paint-order="stroke"/>
<path d="M386.0,550.3 L388.3,570.2" fill="none" stroke="#fff" stroke-width="0.9" stroke-linejoin="round" stroke-linecap="round"/>
<path d="M402.4,535.1 L412.9,563.1" fill="none" stroke="#fff" stroke-width="1.2" stroke-linejoin="round" stroke-linecap="round"/>
<path d="M625.9,483.5 L629.6,488.8 L640.2,494.1 L653.7,501.6 L655.2,509.1 L652.2,519.6 L649.2,521.1 L640.2,518.1 L623.6,510.6 L621.4,507.6 L622.1,492.6Z" fill="#2A18C8" stroke="#fff" stroke-width="2.0" paint-order="stroke"/>
<path d="M419.0,406.0 L421.0,416.0 L424.0,428.0" fill="none" stroke="#fff" stroke-width="1.4" stroke-linejoin="round" stroke-linecap="round"/>
<path d="M418.0,430.0 L424.0,428.0 L428.0,433.0 L427.0,440.0 L422.0,442.0 L419.0,437.0Z" fill="#FFFFFF"/>
<path d="M300.4,186.3 L301.6,191.4 L304.1,197.6 L306.6,202.7 L300.4,207.7 L301.6,212.7 L305.4,215.2 L295.4,215.2 L292.8,220.2" fill="none" stroke="#fff" stroke-width="0.8" stroke-linejoin="round" stroke-linecap="round"/>
<path d="M353.6,407.5 L355.0,407.5 L361.5,413.0 L360.5,414.0Z" fill="#2A18C8" stroke="#fff" stroke-width="2.0" paint-order="stroke"/>
<path d="M247.0,519.8 L252.9,524.4 L257.6,530.3 L261.1,535.0" fill="none" stroke="#fff" stroke-width="0.9" stroke-linejoin="round" stroke-linecap="round"/>
<path d="M241.2,532.6 L247.0,537.3 L251.7,543.1" fill="none" stroke="#fff" stroke-width="0.9" stroke-linejoin="round" stroke-linecap="round"/>
<path d="M280.0,334.5 L286.0,333.5 L292.0,335.0" fill="none" stroke="#fff" stroke-width="1.0" stroke-linejoin="round" stroke-linecap="round"/>
<path d="M228.6,403.4 L233.3,408.1 L234.4,415.1 L239.1,420.9 L245.0,424.4 L248.5,426.8 L249.6,429.1 L246.1,432.6" fill="none" stroke="#fff" stroke-width="0.9" stroke-linejoin="round" stroke-linecap="round"/>
<path d="M248.0,378.0 L252.0,384.0 L256.0,389.0 L261.3,394.0 L266.0,398.7 L271.8,397.5 L276.5,399.9" fill="none" stroke="#fff" stroke-width="0.9" stroke-linejoin="round" stroke-linecap="round"/></svg>
<div class="t" id="fig" style="left:18.20px;top:35.97px;font-size:26.5px;font-weight:normal;letter-spacing:0.7px;color:#111">Figur 24:</div>
<div class="t" id="tl1" style="left:149.00px;top:18.01px;font-size:25.5px;font-weight:bold;letter-spacing:1.2px;color:#000;-webkit-text-stroke:0.35px #000">Særligt tilrettelagt ungdomsuddannelsestilbud opgjort efter ejerform,</div>
<div class="t" id="tl2" style="left:149.00px;top:52.31px;font-size:25.5px;font-weight:bold;letter-spacing:3.4px;color:#000;-webkit-text-stroke:0.35px #000">2025</div>
<div class="t" id="f1" style="left:27.00px;top:684.19px;font-size:20.8px;font-weight:normal;letter-spacing:0.457px;color:#111"><b>Kilde:</b> Dansk Erhverv pba. Undervisningsministeriets stu-overblik &amp; CVR-registeret. 23-05-2025.</div>
<div class="t" id="f2" style="left:27.00px;top:714.69px;font-size:20.8px;font-weight:normal;letter-spacing:0.518px;color:#111"><b>Note:</b> Figuren viser antallet af ikke-offentlige stu-leverandører i hver kommune. Ikke-offentlige leverandører</div>
<div class="t" id="f3" style="left:27.00px;top:745.19px;font-size:20.8px;font-weight:normal;letter-spacing:0.478px;color:#111">dækker over tilbud med følgende ejerformer i CVR-registeret: anpartsselskab, øvrige virksomhedsformer, for-</div>
<div class="t" id="f4" style="left:27.00px;top:775.69px;font-size:20.8px;font-weight:normal;letter-spacing:0.527px;color:#111">ening, fond og anden selvejende institution, erhvervsdrivende fond, enkeltmandsvirksomhed, interessentskab</div>
<div class="t" id="f5" style="left:27.00px;top:806.19px;font-size:20.8px;font-weight:normal;letter-spacing:0.542px;color:#111">samt personligt ejet mindre virksomhed. Antallet er opgjort som antal unikke CVR-numre i kommunen.</div>
<div class="t" id="lg1a" style="left:814.00px;top:188.52px;font-size:21px;font-weight:normal;letter-spacing:0.83px;color:#555">Ingen ikke-offentlig</div>
<div class="t" id="lg1b" style="left:858.00px;top:213.32px;font-size:21px;font-weight:normal;letter-spacing:0.3px;color:#555">leverandør</div>
<div class="t" id="lg2" style="left:814.00px;top:264.52px;font-size:21px;font-weight:normal;letter-spacing:0.47px;color:#555">1 ikke-offentlig leverandør</div>
<div class="t" id="lg3a" style="left:814.00px;top:314.82px;font-size:21px;font-weight:normal;letter-spacing:0.74px;color:#555">Mellem 2-3 ikke-offentlige</div>
<div class="t" id="lg3b" style="left:881.00px;top:339.52px;font-size:21px;font-weight:normal;letter-spacing:0.38px;color:#555">leverandører</div>
<div class="t" id="lg4a" style="left:814.00px;top:378.22px;font-size:21px;font-weight:normal;letter-spacing:0.74px;color:#555">Mellem 4-5 ikke-offentlige</div>
<div class="t" id="lg4b" style="left:881.00px;top:403.02px;font-size:21px;font-weight:normal;letter-spacing:0.38px;color:#555">leverandører</div>
<div class="t" id="lg5a" style="left:814.00px;top:441.52px;font-size:21px;font-weight:normal;letter-spacing:0.65px;color:#555">Mere end 5 ikke-offentlige</div>
<div class="t" id="lg5b" style="left:881.00px;top:466.22px;font-size:21px;font-weight:normal;letter-spacing:0.38px;color:#555">leverandører</div>
<div class="t" id="lg6" style="left:814.00px;top:517.52px;font-size:21px;font-weight:normal;letter-spacing:0.3px;color:#555">Ingen data</div>
<div class="t" id="a1" style="left:616.50px;top:544.73px;font-size:16.5px;font-weight:normal;letter-spacing:1.07px;color:#555">Leveret af Bing</div>
<div class="t" id="a2" style="left:588.00px;top:566.53px;font-size:16.5px;font-weight:normal;letter-spacing:1.34px;color:#555">© OpenStreetMap</div>
</body></html>
